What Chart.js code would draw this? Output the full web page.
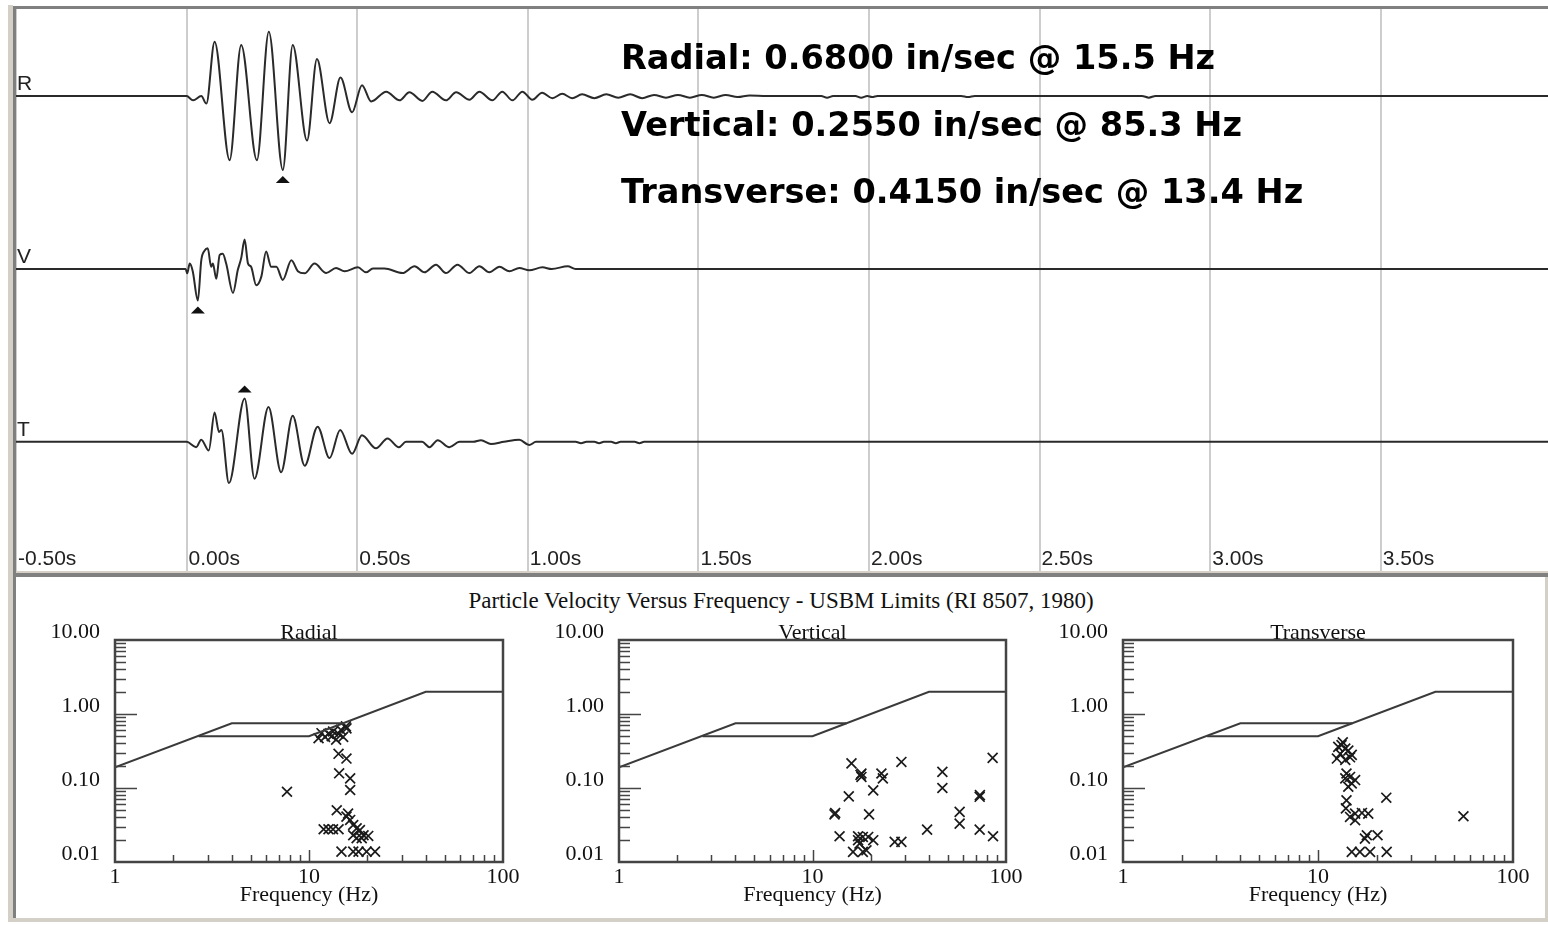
<!DOCTYPE html>
<html>
<head>
<meta charset="utf-8">
<script src="https://cdn.jsdelivr.net/npm/chart.js@4.4.1/dist/chart.umd.min.js"></script>
<style>
  html, body { margin: 0; padding: 0; background: #fff; }
  body { width: 1548px; height: 925px; position: relative; overflow: hidden; }
  .abs { position: absolute; }
  canvas { display: block; }
  #pvHeading {
    left: 0; top: 589px; width: 1562px; text-align: center; white-space: nowrap;
    font: 23px/23px "Liberation Serif", "Times New Roman", serif; color: #111;
  }
</style>
</head>
<body>
<!-- window frame -->
<div class="abs" style="left:8px;top:5px;width:5px;height:917px;background:#d4d0c8"></div>
<div class="abs" style="left:13px;top:6px;width:1535px;height:3px;background:#808080"></div>
<div class="abs" style="left:13px;top:6px;width:3px;height:914px;background:#808080"></div>
<div class="abs" style="left:16px;top:571px;width:1532px;height:2px;background:#d4d0c8"></div>
<div class="abs" style="left:13px;top:573px;width:1535px;height:4px;background:#808080"></div>
<div class="abs" style="left:13px;top:918px;width:1535px;height:4px;background:#d4d0c8"></div>
<div class="abs" style="left:1545px;top:577px;width:3px;height:345px;background:#d4d0c8"></div>

<canvas id="wave" class="abs" width="1532" height="562" style="left:16px;top:9px"></canvas>
<div id="pvHeading" class="abs"></div>
<canvas id="pvRadial" class="abs" width="510" height="340" style="left:15px;top:577px"></canvas>
<canvas id="pvVertical" class="abs" width="510" height="340" style="left:519px;top:577px"></canvas>
<canvas id="pvTransverse" class="abs" width="510" height="340" style="left:1023px;top:577px"></canvas>

<script>
// ---- waveform data (time in s, particle velocity in in/sec) ----
const rTime = [-0.5, 0, 0.019, 0.043, 0.058, 0.082, 0.126, 0.160, 0.206, 0.241, 0.282, 0.311, 0.353, 0.382, 0.419, 0.451, 0.485, 0.514, 0.541,
  0.585, 0.624, 0.653, 0.691, 0.720, 0.760, 0.790, 0.829, 0.858, 0.896, 0.925, 0.955, 0.984, 1.013, 1.042, 1.072, 1.101, 1.130, 1.159,
  1.195, 1.230, 1.265, 1.300, 1.335, 1.370, 1.405, 1.440, 1.475, 1.510, 1.545, 1.580, 1.615, 1.650, 1.700,
  1.860, 1.877, 1.895, 1.960, 1.977, 1.995, 2.009, 2.025, 2.270, 2.290, 2.310, 2.800, 2.820, 2.840, 3.99];
const rVel = [0, 0, -0.04, 0, -0.07, 0.50, -0.59, 0.47, -0.59, 0.59, -0.68, 0.47, -0.41, 0.34, -0.25, 0.17, -0.15, 0.10, -0.05,
  0.04, -0.04, 0.035, -0.045, 0.04, -0.04, 0.035, -0.035, 0.04, -0.04, 0.04, -0.04, 0.04, -0.035, 0.03, -0.02, 0.02, -0.02, 0.015,
  -0.02, 0.015, -0.015, 0.015, -0.02, 0.01, -0.015, 0.01, -0.015, 0.01, -0.015, 0.01, -0.01, 0.005, 0,
  0, -0.015, 0, 0, -0.015, 0, -0.01, 0, 0, -0.01, 0, 0, -0.015, 0, 0];

const vTime = [-0.5, -0.003, 0.002, 0.009, 0.018, 0.033, 0.043, 0.053, 0.062, 0.072, 0.077, 0.087, 0.097, 0.106, 0.116, 0.136, 0.150,
  0.160, 0.170, 0.180, 0.189, 0.204, 0.219, 0.233, 0.248, 0.263, 0.282, 0.307, 0.326, 0.346, 0.375, 0.409, 0.438, 0.463, 0.502, 0.526,
  0.546, 0.580, 0.633, 0.668, 0.697, 0.731, 0.760, 0.794, 0.829, 0.858, 0.887, 0.917, 0.946, 0.975, 1.004, 1.043, 1.070, 1.117, 1.140, 3.99];
const vVel = [0, 0, -0.04, 0.05, -0.02, -0.29, 0.08, 0.17, 0.19, 0.02, 0.05, -0.09, 0.13, 0.14, 0.05, -0.22, -0.01,
  0.10, 0.27, 0.05, 0.02, -0.15, -0.07, 0.16, 0.02, 0.02, -0.10, 0.08, -0.02, -0.04, 0.05, -0.037, 0.009, -0.021, 0.015, -0.031,
  0.005, 0.005, -0.037, 0.025, -0.031, 0.04, -0.037, 0.04, -0.037, 0.025, -0.031, 0.02, -0.021, 0.009, -0.012, 0.015, 0, 0.025, 0, 0];

const tTime = [-0.5, 0, 0.028, 0.043, 0.065, 0.082, 0.095, 0.102, 0.124, 0.170, 0.199, 0.240, 0.277, 0.311, 0.346, 0.384, 0.419,
  0.450, 0.485, 0.514, 0.555, 0.589, 0.622, 0.643, 0.690, 0.712, 0.736, 0.770, 0.800, 0.840, 0.863, 0.892, 0.930, 0.975, 1.004, 1.024,
  1.140, 1.156, 1.172, 1.195, 1.209, 1.223, 1.244, 1.258, 1.272, 1.313, 1.327, 1.341, 3.99];
const tVel = [0, 0, -0.05, 0.02, -0.08, 0.27, 0.09, 0.11, -0.38, 0.40, -0.34, 0.32, -0.28, 0.24, -0.22, 0.14, -0.15,
  0.11, -0.11, 0.06, -0.06, 0.03, -0.05, 0, 0, -0.05, 0.015, -0.05, 0, 0, 0.015, -0.02, 0, 0.02, -0.03, 0,
  0, -0.012, 0, 0, -0.012, 0, 0, -0.012, 0, 0, -0.012, 0, 0];

const timeTicks = [-0.5, 0, 0.5, 1.0, 1.5, 2.0, 2.5, 3.0, 3.5];
const timeLabels = ['-0.50s', '0.00s', '0.50s', '1.00s', '1.50s', '2.00s', '2.50s', '3.00s', '3.50s'];
const channelLetters = ['R', 'V', 'T'];

// peak readouts
const peakNames = ['Radial', 'Vertical', 'Transverse'];
const peakVel = [0.6800, 0.2550, 0.4150];
const peakFreq = [15.5, 85.3, 13.4];

// ---- particle velocity vs frequency ----
const radialFreq = [7.7, 11.2, 11.6, 12.1, 12.6, 13.1, 13.3, 13.8, 14.2, 14.6, 15.0, 15.6, 15.5, 14.2, 15.6, 14.3, 16.3, 16.3, 13.9, 15.9,
  16.3, 15.6, 16.9, 17.6, 18.3, 19.1, 20.2, 16.9, 17.6, 18.7, 11.9, 12.6, 13.3, 14.2, 14.7, 16.9, 18.0, 19.8, 21.9];
const radialVel = [0.089, 0.47, 0.55, 0.49, 0.54, 0.50, 0.58, 0.45, 0.54, 0.61, 0.49, 0.64, 0.68, 0.29, 0.25, 0.158, 0.135, 0.094, 0.05, 0.045,
  0.037, 0.041, 0.0316, 0.0285, 0.027, 0.023, 0.0225, 0.023, 0.021, 0.021, 0.0277, 0.0277, 0.0277, 0.0277, 0.0138, 0.0138, 0.0138, 0.0138, 0.0138];

const verticalFreq = [15.9, 17.9, 17.9, 17.7, 22.7, 23.1, 28.8, 46.9, 46.9, 85.3, 15.4, 20.6, 13.0, 13.1, 19.6, 57.6, 57.6, 73.1, 73.3, 13.8,
  17.2, 18.2, 19.4, 20.6, 17.5, 16.2, 18.2, 19.0, 26.6, 28.8, 39.1, 73.1, 85.7, 17.2];
const verticalVel = [0.215, 0.157, 0.141, 0.15, 0.157, 0.135, 0.225, 0.165, 0.100, 0.255, 0.077, 0.093, 0.044, 0.046, 0.044, 0.0475, 0.033, 0.076, 0.08, 0.0223,
  0.0223, 0.0218, 0.0218, 0.0197, 0.0177, 0.0137, 0.0137, 0.0144, 0.0187, 0.0187, 0.0274, 0.0274, 0.0223, 0.0197];

const transverseFreq = [13.4, 12.7, 13.2, 13.8, 13.0, 14.3, 14.9, 12.5, 13.8, 14.6, 14.0, 14.6, 15.5, 13.8, 14.9, 14.3, 14.0, 13.9, 15.5, 16.8,
  18.1, 14.6, 15.5, 17.8, 20.2, 17.4, 14.9, 16.4, 18.5, 22.5, 22.4, 55.7];
const transverseVel = [0.415, 0.36, 0.38, 0.34, 0.29, 0.32, 0.28, 0.25, 0.24, 0.26, 0.157, 0.141, 0.128, 0.135, 0.115, 0.104, 0.068, 0.053, 0.045, 0.046,
  0.045, 0.0406, 0.0367, 0.023, 0.023, 0.0207, 0.0137, 0.0137, 0.0137, 0.0137, 0.074, 0.0415];

// USBM RI 8507 limit curves
const limitFreqA = [1, 4, 15, 40, 100];
const limitVelA = [0.19, 0.75, 0.75, 2.0, 2.0];
const limitFreqB = [2.7, 10, 15];
const limitVelB = [0.5, 0.5, 0.75];

const freqLabelTicks = [1, 10, 100];
const velLabelTicks = [0.01, 0.1, 1, 10];
const freqMinorTicks = [2, 3, 4, 5, 6, 7, 8, 9, 10, 20, 30, 40, 50, 60, 70, 80, 90];
const velMinorTicks = [0.02, 0.03, 0.04, 0.05, 0.06, 0.07, 0.08, 0.09, 0.1, 0.2, 0.3, 0.4, 0.5, 0.6, 0.7, 0.8, 0.9, 1, 2, 3, 4, 5, 6, 7, 8, 9];
const pvHeading = 'Particle Velocity Versus Frequency - USBM Limits (RI 8507, 1980)';

const zip = (xs, ys) => xs.map((x, i) => ({ x: x, y: ys[i] }));
const SERIF = '"Liberation Serif", "Times New Roman", serif';

Chart.defaults.font.family = '"Liberation Sans", Arial, sans-serif';
Chart.defaults.color = '#111';

document.getElementById('pvHeading').textContent = pvHeading;

// marks the largest excursion of each trace with a small triangle
const peakMarkers = {
  id: 'peakMarkers',
  afterDatasetsDraw(chart) {
    const ctx = chart.ctx;
    ctx.save();
    ctx.fillStyle = '#111';
    chart.data.datasets.forEach((ds, i) => {
      let k = 0;
      ds.data.forEach((p, j) => { if (Math.abs(p.y) > Math.abs(ds.data[k].y)) k = j; });
      const el = chart.getDatasetMeta(i).data[k];
      const below = ds.data[k].y < 0;
      const top = below ? el.y + 6 : el.y - 13;
      ctx.beginPath();
      ctx.moveTo(el.x, top);
      ctx.lineTo(el.x + 7, top + 7);
      ctx.lineTo(el.x - 7, top + 7);
      ctx.closePath();
      ctx.fill();
    });
    ctx.restore();
  }
};

const waveText = {
  id: 'waveText',
  afterDraw(chart) {
    const ctx = chart.ctx;
    const xs = chart.scales.x;
    ctx.save();
    ctx.fillStyle = '#222';
    ctx.font = '21px "Liberation Sans"';
    ctx.textBaseline = 'alphabetic';
    timeTicks.forEach((v, i) => ctx.fillText(timeLabels[i], xs.getPixelForValue(v) + 2, 556));
    ['yR', 'yV', 'yT'].forEach((id, i) => {
      ctx.fillText(channelLetters[i], 1, chart.scales[id].getPixelForValue(0) - 6);
    });
    ctx.fillStyle = '#000';
    ctx.font = 'bold 33.6px "DejaVu Sans"';
    peakNames.forEach((name, i) => {
      const s = name + ': ' + peakVel[i].toFixed(4) + ' in/sec @ ' + peakFreq[i].toFixed(1) + ' Hz';
      ctx.fillText(s, 605, 60 + i * 67);
    });
    ctx.restore();
  }
};

function trace(time, vel, axis) {
  return {
    data: zip(time, vel),
    yAxisID: axis,
    borderColor: '#2a2a2a',
    borderWidth: 2,
    pointRadius: 0,
    cubicInterpolationMode: 'monotone',
    fill: false
  };
}

new Chart(document.getElementById('wave'), {
  type: 'line',
  data: {
    datasets: [trace(rTime, rVel, 'yR'), trace(vTime, vVel, 'yV'), trace(tTime, tVel, 'yT')]
  },
  options: {
    responsive: false,
    animation: false,
    events: [],
    plugins: { legend: { display: false }, tooltip: { enabled: false } },
    scales: {
      x: {
        type: 'linear', min: -0.5, max: 3.99,
        afterBuildTicks: s => { s.ticks = timeTicks.map(v => ({ value: v })); },
        afterFit: s => { s.height = 0; },
        ticks: { display: false },
        grid: { color: '#cdcdcd', lineWidth: 2, drawTicks: false },
        border: { display: false }
      },
      yR: { type: 'linear', display: false, stack: 'traces', stackWeight: 174, weight: 3, min: -0.8, max: 0.8 },
      yV: { type: 'linear', display: false, stack: 'traces', stackWeight: 172, weight: 2, min: -0.79, max: 0.79 },
      yT: { type: 'linear', display: false, stack: 'traces', stackWeight: 216, weight: 1, min: -1.19, max: 0.8 }
    }
  },
  plugins: [peakMarkers, waveText]
});

// frame, inner log ticks and titles of the small plots
const pvFrame = {
  id: 'pvFrame',
  afterDatasetsDraw(chart, args, opts) {
    const { ctx, chartArea: a, scales: { x, y } } = chart;
    ctx.save();
    ctx.strokeStyle = '#444';
    ctx.lineWidth = 2.5;
    ctx.strokeRect(a.left, a.top, a.right - a.left, a.bottom - a.top);
    ctx.lineWidth = 1.5;
    ctx.beginPath();
    freqMinorTicks.forEach(f => {
      const px = Math.round(x.getPixelForValue(f)) + 0.5;
      ctx.moveTo(px, a.bottom);
      ctx.lineTo(px, a.bottom - (f === 10 ? 12 : 7));
    });
    velMinorTicks.forEach(v => {
      const py = Math.round(y.getPixelForValue(v)) + 0.5;
      ctx.moveTo(a.left, py);
      ctx.lineTo(a.left + (v === 1 || v === 0.1 ? 22 : 11), py);
    });
    ctx.stroke();
    ctx.fillStyle = '#111';
    ctx.font = '22px ' + SERIF;
    ctx.textAlign = 'center';
    ctx.textBaseline = 'alphabetic';
    ctx.fillText(opts.title, (a.left + a.right) / 2, a.top - 1);
    ctx.restore();
  }
};

function makePV(id, title, freq, vel, rightPad) {
  return new Chart(document.getElementById(id), {
    type: 'scatter',
    data: {
      datasets: [
        { data: zip(limitFreqA, limitVelA), showLine: true, pointRadius: 0, borderColor: '#3a3a3a', borderWidth: 2 },
        { data: zip(limitFreqB, limitVelB), showLine: true, pointRadius: 0, borderColor: '#3a3a3a', borderWidth: 2 },
        { data: zip(freq, vel), showLine: false, pointStyle: 'crossRot', pointRadius: 7, borderColor: '#1a1a1a', borderWidth: 1.7, backgroundColor: 'transparent' }
      ]
    },
    options: {
      responsive: false,
      animation: false,
      events: [],
      layout: { padding: { top: 63, right: rightPad, left: 0, bottom: 0 } },
      plugins: {
        legend: { display: false },
        tooltip: { enabled: false },
        pvFrame: { title: title }
      },
      scales: {
        x: {
          type: 'logarithmic', min: 1, max: 100,
          afterBuildTicks: s => { s.ticks = freqLabelTicks.map(v => ({ value: v })); },
          afterFit: s => { s.height = 55; },
          grid: { display: false, drawTicks: false },
          border: { display: false },
          ticks: {
            autoSkip: false, maxRotation: 0, padding: 2, color: '#111',
            font: { family: SERIF, size: 22 },
            callback: v => String(v)
          },
          title: {
            display: true, text: 'Frequency (Hz)', color: '#111',
            font: { family: SERIF, size: 22 }, padding: { top: 0, bottom: 9 }
          }
        },
        y: {
          type: 'logarithmic', min: 0.01, max: 10,
          afterBuildTicks: s => { s.ticks = velLabelTicks.map(v => ({ value: v })); },
          afterFit: s => { s.width = 100; },
          grid: { display: false, drawTicks: false },
          border: { display: false },
          ticks: {
            autoSkip: false, padding: 15, labelOffset: -8, color: '#111',
            font: { family: SERIF, size: 22 },
            callback: v => Number(v).toFixed(2)
          }
        }
      }
    },
    plugins: [pvFrame]
  });
}

makePV('pvRadial', 'Radial', radialFreq, radialVel, 22);
makePV('pvVertical', 'Vertical', verticalFreq, verticalVel, 23);
makePV('pvTransverse', 'Transverse', transverseFreq, transverseVel, 20);
</script>
</body>
</html>
